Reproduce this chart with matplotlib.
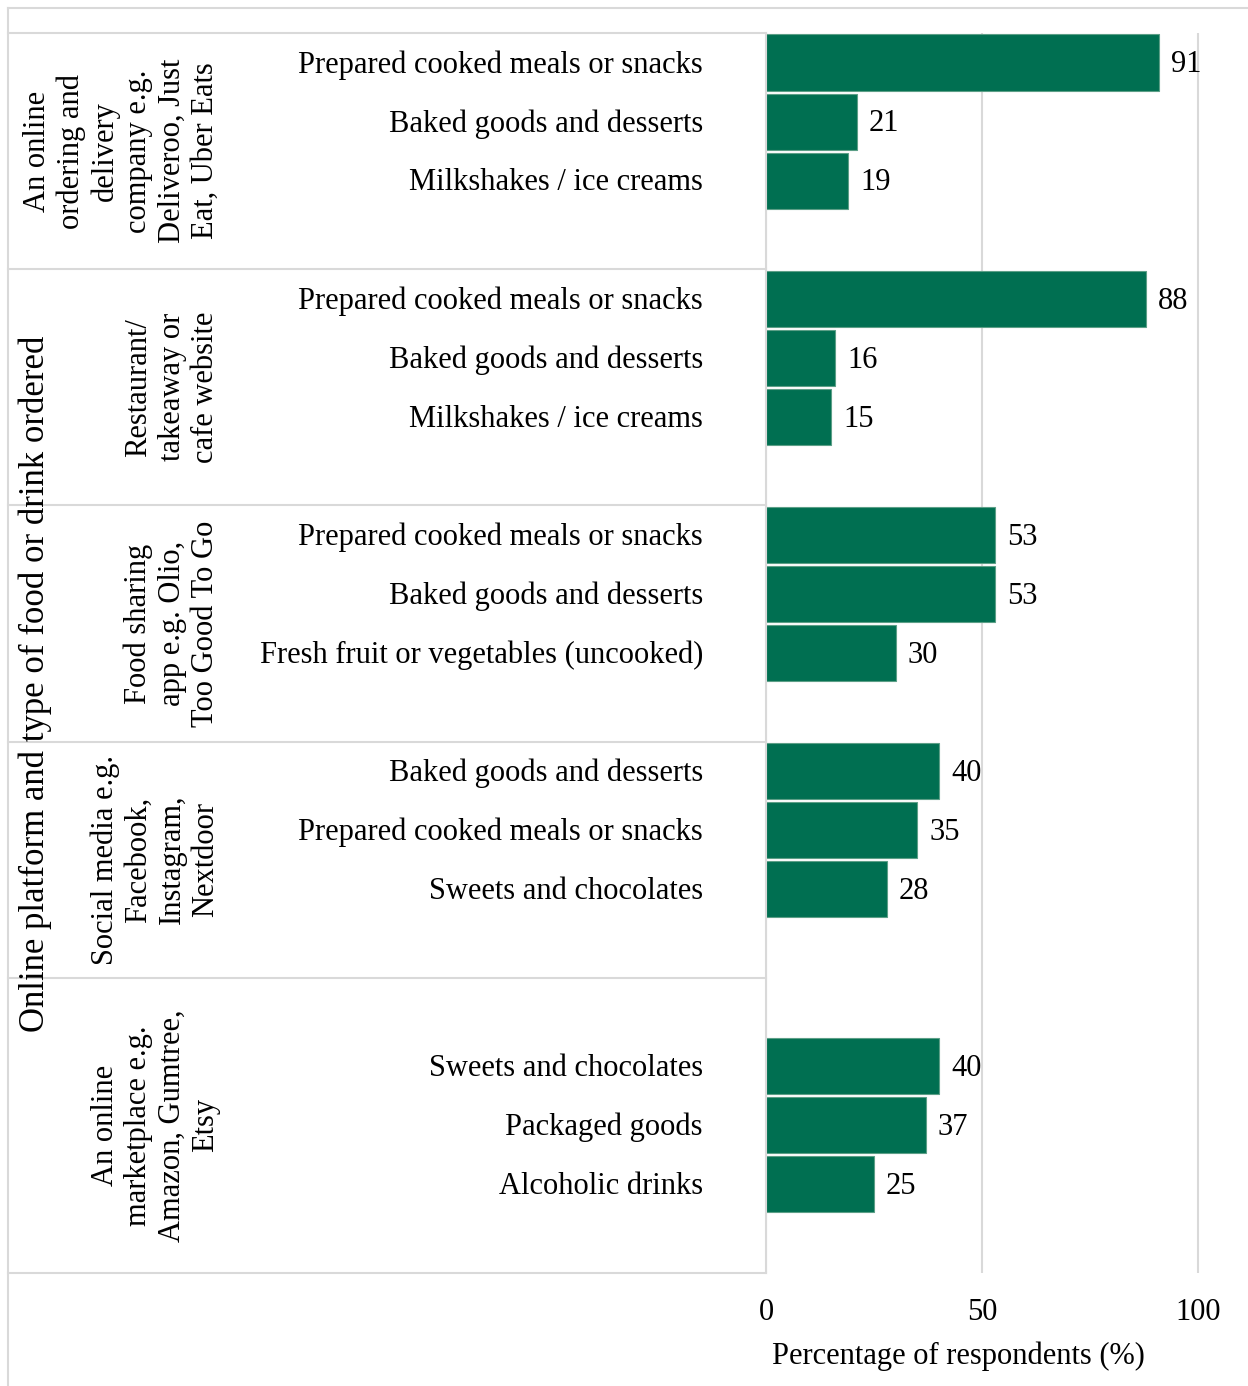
import numpy as np
import matplotlib.pyplot as plt
from matplotlib.lines import Line2D

plt.rcParams['font.family'] = ['Liberation Serif', 'DejaVu Serif']

platforms = [
    "An online\nordering and\ndelivery\ncompany e.g.\nDeliveroo, Just\nEat, Uber Eats",
    "Restaurant/\ntakeaway or\ncafe website",
    "Food sharing\napp e.g. Olio,\nToo Good To Go",
    "Social media e.g.\nFacebook,\nInstagram,\nNextdoor",
    "An online\nmarketplace e.g.\nAmazon, Gumtree,\nEtsy",
]
items = [
    ["Prepared cooked meals or snacks", "Baked goods and desserts", "Milkshakes / ice creams"],
    ["Prepared cooked meals or snacks", "Baked goods and desserts", "Milkshakes / ice creams"],
    ["Prepared cooked meals or snacks", "Baked goods and desserts", "Fresh fruit or vegetables (uncooked)"],
    ["Baked goods and desserts", "Prepared cooked meals or snacks", "Sweets and chocolates"],
    ["Sweets and chocolates", "Packaged goods", "Alcoholic drinks"],
]
values = [
    [91, 21, 19],
    [88, 16, 15],
    [53, 53, 30],
    [40, 35, 28],
    [40, 37, 25],
]
# rows per group in the table, and blank rows before the bars
group_rows = [4, 4, 4, 4, 5]
lead_blank = [0, 0, 0, 0, 1]

W, H = 1248, 1386
green = '#006f51'
grey = '#d9d9d9'
fs = 22

fig = plt.figure(figsize=(W / 100, H / 100), dpi=100)
top, bottom = 33, 1273
ax = fig.add_axes([766 / W, (H - bottom) / H, (W - 766) / W, (bottom - top) / H])
axl = fig.add_axes([8 / W, (H - bottom) / H, (766 - 8) / W, (bottom - top) / H])

nrows = sum(group_rows)
starts = np.concatenate([[0], np.cumsum(group_rows)])

for g in range(len(values)):
    ys = starts[g] + lead_blank[g] + np.arange(len(values[g])) + 0.5
    ax.barh(ys, values[g], height=0.95, color=green, edgecolor='#5c9f87', linewidth=0.8, zorder=3)
    for y, v, name in zip(ys, values[g], items[g]):
        ax.text(v + 2.8, y + 0.04, str(v), va='center', ha='left', fontsize=fs)
        axl.text(703, y + 0.04, name, va='center', ha='right', fontsize=fs)
    mid = (starts[g] + starts[g + 1]) / 2
    axl.text(220, mid, platforms[g], rotation=90, ha='right', va='center',
             multialignment='center', fontsize=fs, linespacing=1.2)

ax.set_xlim(0, (W - 766) / 4.32)
ax.set_ylim(nrows, 0)
ax.set_xticks([0, 50, 100])
ax.set_yticks([])
ax.tick_params(axis='x', length=0, labelsize=fs, pad=18)
ax.grid(axis='x', color=grey, linewidth=1.5, zorder=0)
for s in ax.spines.values():
    s.set_visible(False)
ax.set_xlabel("Percentage of respondents (%)", fontsize=fs)
ax.xaxis.set_label_coords(0.4, -0.055)

axl.set_xlim(8, 766)
axl.set_ylim(nrows, 0)
axl.axis('off')
for y in starts:
    axl.axhline(y, color=grey, linewidth=1.5, clip_on=False)
axl.axvline(766, color=grey, linewidth=1.5, clip_on=False)
axl.text(35, nrows * 0.525, "Online platform and type of food or drink ordered",
         rotation=90, ha='center', va='center', fontsize=25)

fig.add_artist(Line2D([8 / W, 1], [1 - 8 / H] * 2, color=grey, linewidth=1.5, transform=fig.transFigure))
fig.add_artist(Line2D([8 / W] * 2, [0, 1 - 8 / H], color=grey, linewidth=1.5, transform=fig.transFigure))

fig.savefig('out.png', dpi=100, facecolor='white')
